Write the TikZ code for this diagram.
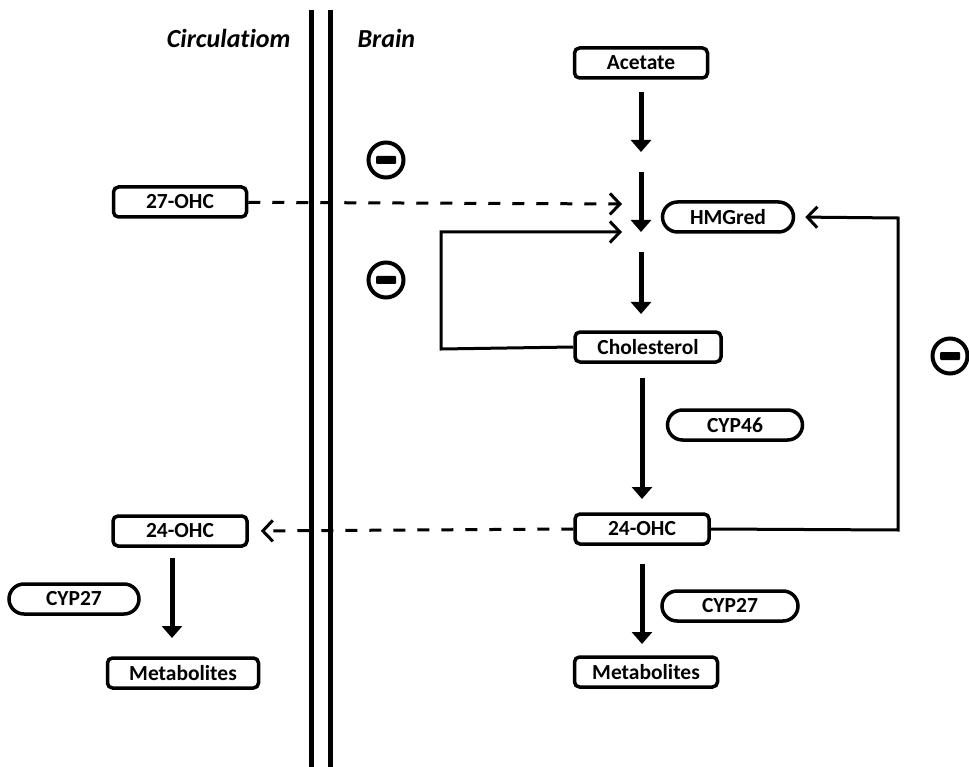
\documentclass[tikz,border=0pt]{standalone}
\usepackage{fontspec}
\setmainfont{Carlito}[Ligatures={NoCommon}]
\usetikzlibrary{arrows.meta,shapes.misc}
\begin{document}
\begin{tikzpicture}[x=1pt,y=-1pt,
  txt/.style={font=\fontsize{21.5}{24}\selectfont\bfseries},
  box/.style={txt,draw,line width=3.5pt,rounded corners=5pt,minimum height=30pt,inner sep=0pt},
  pill/.style={txt,draw,line width=3.5pt,rounded rectangle,minimum height=30pt,inner sep=0pt},
  big/.style={line width=5pt,-{Triangle[width=20pt,length=12pt]}},
  thin/.style={line width=3pt,-{Straight Barb[length=10pt,width=21pt,line width=3pt]}},
  dsh/.style={thin,dash pattern=on 12pt off 12pt},
  lbl/.style={font=\fontsize{26}{28}\selectfont\bfseries\itshape},
  wall/.style={line width=5pt}]
\useasboundingbox (0,0) rectangle (969,767);
% membrane
\coordinate (w1t) at (311,10); \coordinate (w1b) at (311,767);
\coordinate (w2t) at (330,10); \coordinate (w2b) at (330,767);
\draw[wall] (w1t) -- (w1b);
\draw[wall] (w2t) -- (w2b);
\node[lbl,anchor=east] (circ) at (294,38) {Circulatiom};
\node[lbl,anchor=west] (brain) at (354,38) {Brain};
% nodes
\node[box,minimum width=133pt] (acetate) at (641,63) {Acetate};
\node[box,minimum width=133pt] (ohc27) at (180,202) {27-OHC};
\node[pill,minimum width=131pt] (hmg) at (728,217) {HMGred};
\node[box,minimum width=146pt] (chol) at (648,347) {Cholesterol};
\node[pill,minimum width=135pt] (cyp46) at (735,425) {CYP46};
\node[box,minimum width=134pt] (ohc24b) at (642,529) {24-OHC};
\node[box,minimum width=134pt] (ohc24c) at (180,531) {24-OHC};
\node[pill,minimum width=130pt] (cyp27c) at (74,599) {CYP27};
\node[box,minimum width=151pt] (metc) at (183,673) {Metabolites};
\node[pill,minimum width=136pt] (cyp27b) at (730,606) {CYP27};
\node[box,minimum width=143pt] (metb) at (646,672) {Metabolites};
% step coordinates
\coordinate (s1) at (641,92); \coordinate (s2) at (641,152);
\coordinate (s3) at (641,172); \coordinate (s4) at (641,232);
\coordinate (s5) at (641,252); \coordinate (s6) at (641,314);
\coordinate (c1) at (642,378); \coordinate (c2) at (642,499);
\coordinate (m1a) at (642,564); \coordinate (m1b) at (642,644);
\coordinate (m2a) at (172,558); \coordinate (m2b) at (172,638);
\coordinate (in1) at (622,204); \coordinate (in2) at (622,232);
\coordinate (fbl1) at (441,349); \coordinate (fbl2) at (441,232);
\coordinate (fbr1) at (898,530); \coordinate (fbr2) at (898,218);
% main pathway
\draw[big] (s1) -- (s2);
\draw[big] (s3) -- (s4);
\draw[big] (s5) -- (s6);
\draw[big] (c1) -- (c2);
\draw[big] (m1a) -- (m1b);
\draw[big] (m2a) -- (m2b);
% dashed transport
\draw[dsh] (ohc27) -- (in1);
\draw[dsh,shorten >=12pt] (ohc24b.west) -- (ohc24c.east);
% feedback loops
\draw[thin] (chol.west) -- (fbl1) -- (fbl2) -- (in2);
\draw[thin,shorten >=10pt] (ohc24b.east) -- (fbr1) -- (fbr2) -- (hmg.east);
% inhibition signs
\foreach \n/\x/\y in {m1/386/160, m2/386/280, m3/950/356}{
  \node[circle,draw,line width=4pt,minimum size=35pt,inner sep=0pt] (\n) at (\x,\y) {};
  \fill[rounded corners=1pt] ([xshift=-10pt,yshift=-4pt]\n.center) rectangle ([xshift=10pt,yshift=4pt]\n.center);
}
\end{tikzpicture}
\end{document}
